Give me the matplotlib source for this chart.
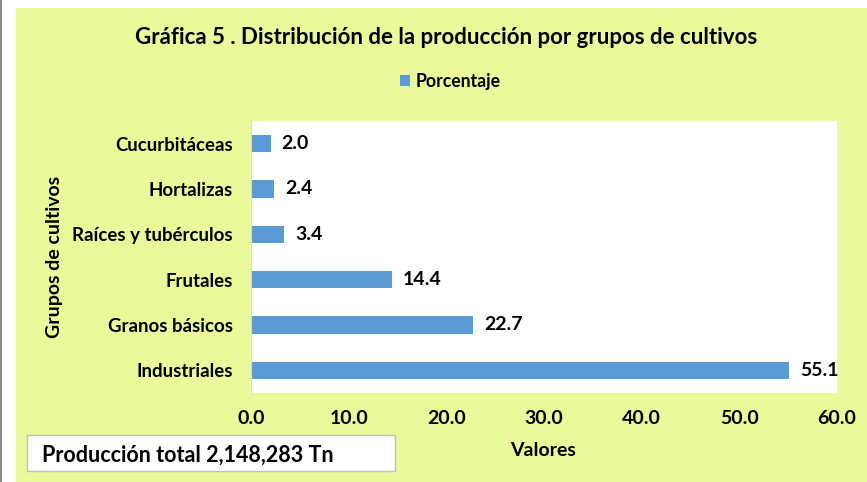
import matplotlib
matplotlib.use("Agg")
import matplotlib.pyplot as plt
from matplotlib.patches import Rectangle

categories = ["Industriales", "Granos básicos", "Frutales", "Raíces y tubérculos", "Hortalizas", "Cucurbitáceas"]
values = [55.1, 22.7, 14.4, 3.4, 2.4, 2.0]
xticks = [0, 10, 20, 30, 40, 50, 60]
title = "Gráfica 5 . Distribución de la producción por grupos de cultivos"
series_name = "Porcentaje"
note = "Producción total 2,148,283 Tn"

W, H = 867, 482
plt.rcParams['font.family'] = ['Lato', 'DejaVu Sans']
plt.rcParams['font.weight'] = 'bold'

fig = plt.figure(figsize=(W / 100, H / 100), dpi=100)
fig.patch.set_facecolor("white")

bg = "#EBF99B"
fig.patches.append(Rectangle((16 / W, 0), (W - 16) / W, (H - 8) / H, transform=fig.transFigure,
                             facecolor=bg, edgecolor="none", zorder=-10))
fig.patches.append(Rectangle((0, 0), 2 / W, 1, transform=fig.transFigure,
                             facecolor="#8C8C8C", edgecolor="none", zorder=-10))

x0, x1, y0, y1 = 251, 837, 121, 393
ax = fig.add_axes([x0 / W, 1 - y1 / H, (x1 - x0) / W, (y1 - y0) / H])
ax.set_zorder(1)
ax.set_facecolor("white")
ypos = list(range(len(categories)))
bars = ax.barh(ypos, values, height=0.38, color="#5B9BD5", label=series_name, zorder=2)
ax.set_xlim(0, 60)
ax.set_ylim(-0.5, len(categories) - 0.5)
ax.set_yticks(ypos)
ax.set_yticklabels(categories, fontsize=13.4, fontweight='bold')
ax.set_xticks(xticks)
ax.set_xticklabels([f"{t:.1f}" for t in xticks], fontsize=14, fontweight='bold')
ax.tick_params(axis='both', length=0)
ax.tick_params(axis='y', pad=13)
ax.tick_params(axis='x', pad=12)
for s in ["top", "right", "bottom"]:
    ax.spines[s].set_visible(False)
ax.spines["left"].set_color("#D9D9D9")
for b, v in zip(bars, values):
    ax.annotate(f"{v:.1f}", (b.get_width(), b.get_y() + b.get_height() / 2),
                xytext=(8, 0), textcoords="offset points", va="center", ha="left",
                fontsize=14, fontweight='bold')

fig.text(446 / W, 1 - 38 / H, title, ha="center", va="center", fontsize=16, fontweight='bold')
leg = fig.legend(handles=[bars], labels=[series_name], loc="center", bbox_to_anchor=(450 / W, 1 - 81 / H),
                 frameon=False, handlelength=0.6, handleheight=0.6, handletextpad=0.3,
                 prop={'weight': 'bold', 'size': 12.7})
fig.text(543 / W, 1 - 451 / H, "Valores", ha="center", va="center", fontsize=14, fontweight='bold')
fig.text(55 / W, 1 - 257 / H, "Grupos de cultivos", ha="center", va="center", rotation=90,
         fontsize=14, fontweight='bold')

fig.patches.append(Rectangle((27 / W, 1 - 471 / H), (395 - 27) / W, (471 - 435) / H, transform=fig.transFigure,
                             facecolor="white", edgecolor="#BFBFBF", linewidth=1, zorder=1))
fig.text(42 / W, 1 - 455 / H, note, ha="left", va="center", fontsize=15.5, fontweight='bold')

fig.savefig("out.png", dpi=100, facecolor=fig.get_facecolor())
